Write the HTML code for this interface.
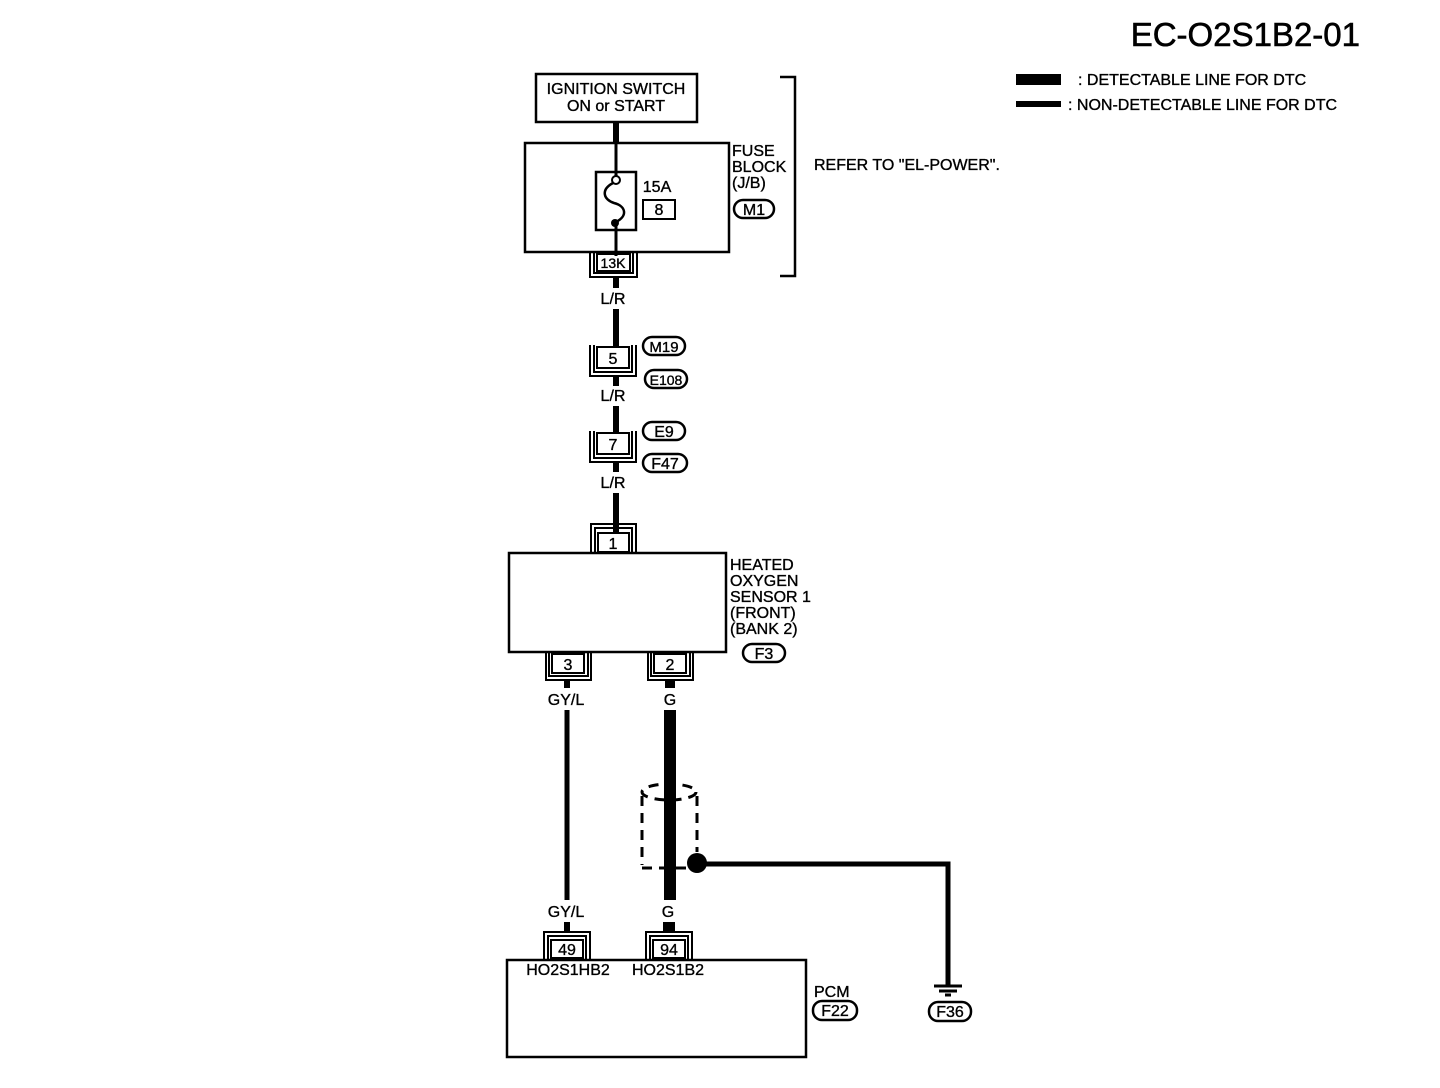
<!DOCTYPE html>
<html><head><style>
body{margin:0;background:#fff}
svg{display:block}
text{font-family:"Liberation Sans",sans-serif;fill:#000;stroke:#000;stroke-width:0.35}
</style></head><body>
<svg width="1440" height="1088" viewBox="0 0 1440 1088" xmlns="http://www.w3.org/2000/svg">
<g font-size="16" text-anchor="middle">
<!-- title & legend -->
<text x="1360" y="46" font-size="33" text-anchor="end" style="stroke-width:0.6">EC-O2S1B2-01</text>
<rect x="1016" y="74" width="45" height="11" fill="#000"/>
<text x="1078" y="85" text-anchor="start">: DETECTABLE LINE FOR DTC</text>
<rect x="1016" y="101" width="45" height="6" fill="#000"/>
<text x="1068" y="110" text-anchor="start">: NON-DETECTABLE LINE FOR DTC</text>

<!-- ignition -->
<rect x="536" y="74" width="161" height="48" fill="none" stroke="#000" stroke-width="2.5"/>
<text x="616" y="94">IGNITION SWITCH</text>
<text x="616" y="111">ON or START</text>
<line x1="616" y1="122" x2="616" y2="143" stroke="#000" stroke-width="6"/>

<!-- fuse block -->
<rect x="525" y="143" width="204" height="109" fill="none" stroke="#000" stroke-width="2.5"/>
<rect x="596" y="172" width="40" height="58" fill="none" stroke="#000" stroke-width="2.5"/>
<line x1="616" y1="143" x2="616" y2="176" stroke="#000" stroke-width="3"/>
<circle cx="616" cy="180" r="4" fill="#fff" stroke="#000" stroke-width="2"/>
<path d="M613,183 C600,190 604,200 614,203 C626,206 628,216 616,222" fill="none" stroke="#000" stroke-width="2.5"/>
<circle cx="615" cy="223" r="4" fill="#000"/>
<line x1="616" y1="223" x2="616" y2="256" stroke="#000" stroke-width="3"/>
<text x="657" y="192">15A</text>
<rect x="643" y="200" width="32" height="19" fill="none" stroke="#000" stroke-width="2"/>
<text x="659" y="215">8</text>
<text x="732" y="156" text-anchor="start">FUSE</text>
<text x="732" y="172" text-anchor="start">BLOCK</text>
<text x="732" y="188" text-anchor="start">(J/B)</text>
<rect x="734" y="200" width="40" height="18" rx="9" fill="none" stroke="#000" stroke-width="2.5"/>
<text x="754" y="215">M1</text>
<path d="M780,77 H795 V276 H780" fill="none" stroke="#000" stroke-width="2.5"/>
<text x="814" y="170" text-anchor="start">REFER TO "EL-POWER".</text>

<!-- 13K -->
<rect x="597" y="254" width="33" height="17" fill="none" stroke="#000" stroke-width="2"/>
<text x="613" y="268" font-size="14">13K</text>
<path d="M594,252 V273 H633 V252 M590,252 V277 H637 V252" fill="none" stroke="#000" stroke-width="2"/>
<line x1="616" y1="277" x2="616" y2="288" stroke="#000" stroke-width="6"/>
<text x="613" y="304">L/R</text>
<line x1="616" y1="309" x2="616" y2="347" stroke="#000" stroke-width="6"/>

<!-- 5 -->
<rect x="597" y="347" width="32" height="21" fill="none" stroke="#000" stroke-width="2"/>
<text x="613" y="364">5</text>
<path d="M594,345 V372 H632 V345 M590,345 V376 H636 V345" fill="none" stroke="#000" stroke-width="2"/>
<rect x="643" y="337" width="42" height="18" rx="9" fill="none" stroke="#000" stroke-width="2.5"/>
<text x="664" y="352" font-size="15">M19</text>
<rect x="645" y="370" width="42" height="18" rx="9" fill="none" stroke="#000" stroke-width="2.5"/>
<text x="666" y="385" font-size="14">E108</text>
<line x1="616" y1="376" x2="616" y2="386" stroke="#000" stroke-width="6"/>
<text x="613" y="401">L/R</text>
<line x1="616" y1="406" x2="616" y2="433" stroke="#000" stroke-width="6"/>

<!-- 7 -->
<rect x="597" y="433" width="32" height="21" fill="none" stroke="#000" stroke-width="2"/>
<text x="613" y="450">7</text>
<path d="M594,431 V458 H632 V431 M590,431 V462 H636 V431" fill="none" stroke="#000" stroke-width="2"/>
<rect x="643" y="422" width="42" height="18" rx="9" fill="none" stroke="#000" stroke-width="2.5"/>
<text x="664" y="437">E9</text>
<rect x="643" y="454" width="44" height="18" rx="9" fill="none" stroke="#000" stroke-width="2.5"/>
<text x="665" y="469">F47</text>
<line x1="616" y1="462" x2="616" y2="472" stroke="#000" stroke-width="6"/>
<text x="613" y="488">L/R</text>
<line x1="616" y1="493" x2="616" y2="532" stroke="#000" stroke-width="6"/>

<!-- 1 -->
<rect x="598" y="533" width="31" height="19" fill="none" stroke="#000" stroke-width="2"/>
<text x="613" y="549">1</text>
<path d="M595,553 V528 H632 V553 M591,553 V524 H636 V553" fill="none" stroke="#000" stroke-width="2"/>

<!-- sensor -->
<rect x="509" y="553" width="217" height="99" fill="none" stroke="#000" stroke-width="2.5"/>
<text x="730" y="570" text-anchor="start">HEATED</text>
<text x="730" y="586" text-anchor="start">OXYGEN</text>
<text x="730" y="602" text-anchor="start">SENSOR 1</text>
<text x="730" y="618" text-anchor="start">(FRONT)</text>
<text x="730" y="634" text-anchor="start">(BANK 2)</text>
<rect x="743" y="644" width="42" height="18" rx="9" fill="none" stroke="#000" stroke-width="2.5"/>
<text x="764" y="659">F3</text>

<!-- 3 and 2 -->
<rect x="552" y="654" width="32" height="19" fill="none" stroke="#000" stroke-width="2"/>
<text x="568" y="670">3</text>
<path d="M549,652 V676 H588 V652 M546,652 V680 H591 V652" fill="none" stroke="#000" stroke-width="2"/>
<rect x="654" y="654" width="32" height="19" fill="none" stroke="#000" stroke-width="2"/>
<text x="670" y="670">2</text>
<path d="M651,652 V676 H690 V652 M648,652 V680 H693 V652" fill="none" stroke="#000" stroke-width="2"/>
<line x1="567" y1="680" x2="567" y2="688" stroke="#000" stroke-width="6"/>
<line x1="670" y1="680" x2="670" y2="688" stroke="#000" stroke-width="10"/>
<text x="566" y="705">GY/L</text>
<text x="670" y="705">G</text>
<line x1="567" y1="710" x2="567" y2="900" stroke="#000" stroke-width="5"/>
<line x1="670" y1="710" x2="670" y2="900" stroke="#000" stroke-width="12"/>

<!-- shield -->
<g fill="none" stroke="#000" stroke-width="3" stroke-dasharray="10,7">
<ellipse cx="669" cy="792" rx="27" ry="8"/>
<line x1="642" y1="796" x2="642" y2="865"/>
<line x1="697" y1="796" x2="697" y2="852"/>
<path d="M642,868 H700"/>
</g>
<circle cx="697" cy="863" r="10" fill="#000"/>
<path d="M697,864 H948 V986" fill="none" stroke="#000" stroke-width="5"/>
<line x1="934" y1="986" x2="962" y2="986" stroke="#000" stroke-width="3"/>
<line x1="939" y1="991" x2="957" y2="991" stroke="#000" stroke-width="3"/>
<line x1="945" y1="995" x2="951" y2="995" stroke="#000" stroke-width="3"/>
<rect x="929" y="1002" width="42" height="19" rx="9" fill="none" stroke="#000" stroke-width="2.5"/>
<text x="950" y="1017">F36</text>

<text x="566" y="917">GY/L</text>
<text x="668" y="917">G</text>
<line x1="567" y1="922" x2="567" y2="932" stroke="#000" stroke-width="6"/>
<line x1="669" y1="922" x2="669" y2="932" stroke="#000" stroke-width="12"/>

<!-- 49 & 94 -->
<rect x="551" y="940" width="32" height="18" fill="none" stroke="#000" stroke-width="2"/>
<text x="567" y="955">49</text>
<path d="M548,960 V936 H586 V960 M544,960 V932 H590 V960" fill="none" stroke="#000" stroke-width="2"/>
<rect x="653" y="940" width="32" height="18" fill="none" stroke="#000" stroke-width="2"/>
<text x="669" y="955">94</text>
<path d="M650,960 V936 H688 V960 M646,960 V932 H692 V960" fill="none" stroke="#000" stroke-width="2"/>

<!-- PCM -->
<rect x="507" y="960" width="299" height="97" fill="none" stroke="#000" stroke-width="2.5"/>
<text x="568" y="975">HO2S1HB2</text>
<text x="668" y="975">HO2S1B2</text>
<text x="814" y="997" text-anchor="start">PCM</text>
<rect x="813" y="1001" width="44" height="19" rx="9" fill="none" stroke="#000" stroke-width="2.5"/>
<text x="835" y="1016">F22</text>
</g>
</svg>
</body></html>
